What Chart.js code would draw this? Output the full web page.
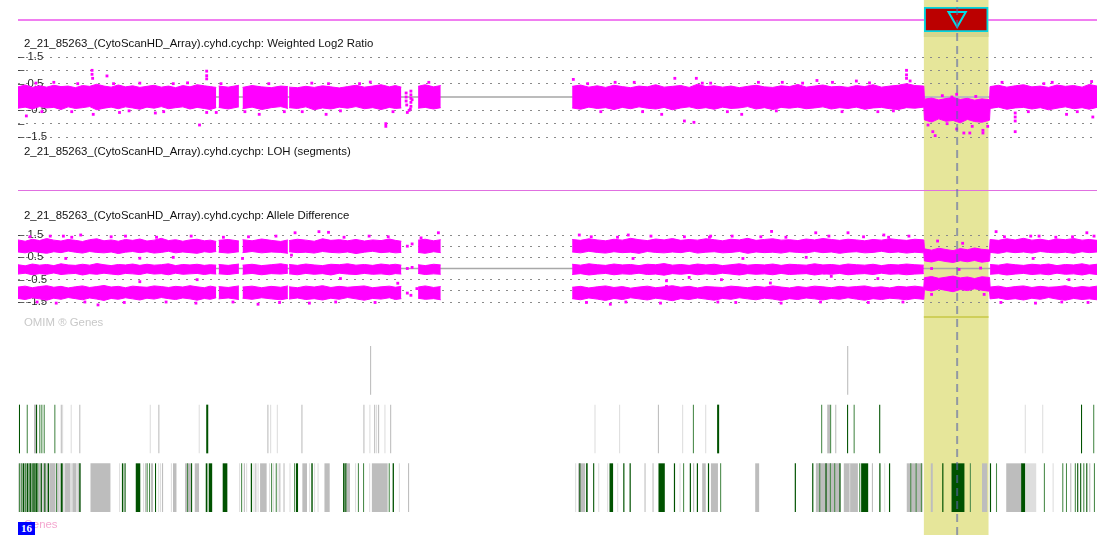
<!DOCTYPE html>
<html><head><meta charset="utf-8">
<script src="https://cdn.jsdelivr.net/npm/chart.js@4.4.1/dist/chart.umd.min.js"></script>
<style>
html,body{margin:0;padding:0;background:#fff;}
#wrap{position:relative;width:1097px;height:535px;overflow:hidden;background:#fff;font-family:'Liberation Sans',Arial,sans-serif;}
canvas{position:absolute;left:0;}
.t{position:absolute;left:24px;font-size:11.4px;line-height:13px;color:#111;white-space:nowrap;}
.sep{position:absolute;left:18px;width:1079px;}
#chr{position:absolute;left:18px;top:522px;width:17px;height:13px;background:#0000ff;color:#fff;font:bold 11px 'Liberation Serif',serif;line-height:13px;text-align:center;}
</style></head><body>
<div id="wrap">
<canvas id="bg" width="1097" height="535" style="top:0"></canvas>
<canvas id="shade" width="1097" height="5" style="top:32px"></canvas>
<canvas id="segline" width="1097" height="2" style="top:316px"></canvas>
<div class="sep" style="top:19px;height:2px;background:#f07ef0"></div>
<div class="sep" style="top:190px;height:1px;background:#e070e0"></div>
<canvas id="log2" width="1097" height="100" style="top:47px"></canvas>
<canvas id="allele" width="1097" height="95" style="top:222px"></canvas>
<canvas id="genes" width="1097" height="176" style="top:341px"></canvas>
<canvas id="hdr" width="1097" height="25" style="top:7px"></canvas>
<div class="t" style="top:37px">2_21_85263_(CytoScanHD_Array).cyhd.cychp: Weighted Log2 Ratio</div>
<div class="t" style="top:145px">2_21_85263_(CytoScanHD_Array).cyhd.cychp: LOH (segments)</div>
<div class="t" style="top:209px">2_21_85263_(CytoScanHD_Array).cyhd.cychp: Allele Difference</div>
<div class="t" style="top:316px;color:#c8c8c8">OMIM ® Genes</div>
<div class="t" style="top:518px;color:#f4a7cf">Genes</div>
<div id="chr">16</div>
<canvas id="tri" width="1097" height="25" style="top:7px"></canvas>
<canvas id="cursor" width="1097" height="535" style="top:0"></canvas>
</div>
<script>
// ---- data (chromosome 16, positions in Mb) ----
const X_MAX = 90.35;
const region = [75.88, 81.24];
const cursorMb = 78.64;

const yTicks = [1.5, 1, 0.5, 0, -0.5, -1, -1.5];
const yTickLabels = ['1.5', '', '0.5', '', '-0.5', '', '-1.5'];

const posX = [
 0,0.6,1.2,1.8,2.4,3.0,3.6,4.2,4.8,5.4,6.0,6.6,7.2,7.8,8.4,9.0,9.6,10.2,10.8,11.4,12.0,12.6,13.2,13.8,14.4,15.0,15.6,16.1,16.6,
 16.7,
 16.8,17.6,18.5,
 18.65,
 18.8,19.6,20.4,21.2,22.0,22.6,
 22.65,
 22.7,23.4,24.1,24.8,25.5,26.2,26.9,27.6,28.3,29.0,29.7,30.4,31.1,31.6,32.1,
 32.25,
 33.5,34.1,34.8,35.4,
 40,
 46.4,47.1,47.8,48.5,49.2,49.9,50.6,51.3,52.0,52.7,53.4,54.1,54.8,55.5,56.2,56.9,57.6,58.3,59.0,59.7,60.4,61.1,61.8,62.5,63.2,63.9,64.6,65.3,66.0,66.7,67.4,68.1,68.8,69.5,70.2,70.9,71.6,72.3,73.0,73.7,74.4,75.1,75.85,
 75.9,76.5,77.1,77.7,78.3,78.9,79.5,80.1,80.7,81.35,
 81.4,82.1,82.8,83.5,84.2,84.9,85.6,86.3,87.0,87.7,88.4,89.1,89.7,90.35
];

const log2Hi = [
 0.38,0.45,0.36,0.42,0.37,0.44,0.39,0.41,0.35,0.43,0.40,0.48,0.41,0.37,0.45,0.38,0.42,0.36,0.40,0.44,0.37,0.41,0.35,0.43,0.38,0.46,0.42,0.39,0.36,
 null,
 0.41,0.37,0.44,
 null,
 0.36,0.43,0.38,0.35,0.41,0.39,
 null,
 0.37,0.35,0.40,0.36,0.42,0.38,0.34,0.39,0.44,0.37,0.41,0.46,0.38,0.43,0.37,
 null,
 0.40,0.46,0.38,0.43,
 null,
 0.40,0.45,0.37,0.42,0.36,0.44,0.39,0.35,0.41,0.38,0.46,0.37,0.40,0.43,0.36,0.48,0.39,0.42,0.37,0.41,0.35,0.40,0.44,0.38,0.36,0.42,0.39,0.47,0.37,0.41,0.45,0.38,0.40,0.36,0.43,0.39,0.46,0.37,0.41,0.44,0.50,0.43,0.41,
 -0.08,-0.04,-0.11,-0.06,-0.02,-0.09,-0.05,-0.12,-0.07,-0.10,
 0.39,0.44,0.37,0.42,0.46,0.38,0.41,0.36,0.45,0.40,0.43,0.37,0.47,0.41
];
const log2Lo = [
 -0.42,-0.38,-0.45,-0.36,-0.41,-0.39,-0.47,-0.37,-0.43,-0.40,-0.36,-0.48,-0.42,-0.38,-0.44,-0.37,-0.41,-0.46,-0.38,-0.42,-0.36,-0.44,-0.40,-0.37,-0.45,-0.39,-0.43,-0.47,-0.40,
 null,
 -0.39,-0.45,-0.37,
 null,
 -0.44,-0.38,-0.47,-0.40,-0.36,-0.43,
 null,
 -0.40,-0.43,-0.37,-0.48,-0.41,-0.45,-0.38,-0.42,-0.36,-0.44,-0.40,-0.47,-0.39,-0.43,-0.41,
 null,
 -0.42,-0.39,-0.45,-0.40,
 null,
 -0.41,-0.46,-0.38,-0.43,-0.40,-0.47,-0.39,-0.44,-0.37,-0.42,-0.45,-0.39,-0.48,-0.41,-0.37,-0.44,-0.40,-0.46,-0.38,-0.43,-0.41,-0.36,-0.45,-0.40,-0.47,-0.39,-0.42,-0.38,-0.44,-0.41,-0.37,-0.45,-0.40,-0.43,-0.38,-0.46,-0.41,-0.39,-0.44,-0.47,-0.40,-0.42,-0.38,
 -0.86,-0.94,-0.82,-0.91,-0.88,-0.97,-0.84,-0.92,-0.95,-0.87,
 -0.43,-0.38,-0.46,-0.41,-0.39,-0.45,-0.40,-0.48,-0.42,-0.37,-0.44,-0.40,-0.46,-0.39
];
const log2OutX = [0.7,6.2,6.2,6.25,7.45,6.3,8.5,15.8,15.8,15.8,15.2,15.8,16.6,20.2,25.8,30.8,30.8,32.6,
 32.5,32.5,32.5,32.55,32.9,32.9,32.9,32.9,32.9,32.85,32.75,33.0,
 46.5,47.7,55.0,56.8,56.6,55.8,53.9,60.6,70.2,74.4,74.4,74.4,74.7,72.0,83.5,83.5,83.5,83.5,90.0,87.8,
 76.6,76.8,78.6,79.2,79.7,80.8,80.8,81.2,77.8,78.6,78.2,
 3.0,10.2,13.0,26.0,29.5,64.0,66.9,68.2,86.6,89.9,58.0,50.0,2.0,11.5,22.3,
 1.5,4.5,5.0,8.0,9.3,12.2,14.2,17.0,19.0,21.0,23.8,24.6,27.0,28.6,31.4,34.4,48.8,51.6,52.3,57.3,59.4,62.0,63.5,65.7,69.0,71.3,73.3,82.4,84.6,85.9,88.7,77.4,80.2,76.2,79.9];
const log2OutY = [-0.71,1.0,0.85,0.7,0.79,-0.65,-0.58,0.97,0.80,0.68,-1.05,-0.58,-0.58,-0.65,-0.65,-1.0,-1.1,-0.58,
 0.15,0.0,-0.15,-0.3,0.22,0.08,-0.05,-0.2,-0.35,-0.45,-0.5,-0.1,
 0.66,0.5,0.7,0.7,-0.95,-0.9,-0.65,-0.65,0.6,1.0,0.83,0.7,0.6,-0.55,-0.6,-0.75,-0.9,-1.3,-0.75,-0.65,
 -1.3,-1.45,-1.2,-1.35,-1.35,-1.35,-1.25,-1.1,-1.0,0.1,0.0,
 0.55,0.52,0.5,0.5,0.56,0.55,0.62,0.55,0.55,0.58,0.52,0.55,-0.55,-0.6,-0.55,
 0.52,-0.55,0.5,0.5,-0.52,-0.55,0.53,0.5,-0.55,0.5,-0.55,0.52,-0.52,0.5,-0.55,0.55,-0.55,0.55,-0.55,0.52,-0.55,0.55,-0.52,0.52,-0.55,0.53,-0.52,0.55,-0.55,0.5,-0.55,0.05,0.02,-1.05,-1.1];

const aaHi = [
 1.28,1.22,1.31,1.25,1.34,1.27,1.23,1.30,1.26,1.21,1.29,1.33,1.24,1.28,1.22,1.30,1.26,1.32,1.23,1.27,1.35,1.25,1.29,1.22,1.28,1.31,1.24,1.27,1.21,
 null,
 1.26,1.30,1.23,
 null,
 1.29,1.24,1.32,1.26,1.21,1.28,
 null,
 1.25,1.31,1.27,1.22,1.33,1.26,1.29,1.24,1.30,1.23,1.28,1.25,1.32,1.26,1.22,
 null,
 1.27,1.31,1.24,1.29,
 null,
 1.30,1.26,1.33,1.28,1.24,1.31,1.27,1.35,1.29,1.25,1.32,1.28,1.34,1.26,1.30,1.27,1.33,1.29,1.24,1.31,1.28,1.35,1.26,1.30,1.33,1.27,1.29,1.25,1.32,1.28,1.34,1.30,1.26,1.31,1.28,1.24,1.30,1.27,1.33,1.29,1.26,1.31,1.28,
 0.88,0.82,0.91,0.85,0.80,0.89,0.84,0.92,0.86,0.83,
 1.30,1.26,1.33,1.28,1.35,1.27,1.31,1.25,1.32,1.29,1.34,1.27,1.30,1.26
];
const aaLo = [
 0.74,0.70,0.77,0.72,0.68,0.75,0.71,0.78,0.73,0.69,0.76,0.72,0.70,0.74,0.67,0.73,0.76,0.71,0.75,0.69,0.72,0.77,0.70,0.74,0.71,0.68,0.75,0.72,0.76,
 null,
 0.73,0.69,0.75,
 null,
 0.71,0.76,0.70,0.74,0.72,0.68,
 null,
 0.75,0.71,0.73,0.69,0.76,0.72,0.70,0.74,0.67,0.73,0.77,0.71,0.74,0.70,0.72,
 null,
 0.72,0.68,0.75,0.71,
 null,
 0.74,0.70,0.77,0.72,0.69,0.75,0.71,0.73,0.68,0.76,0.72,0.70,0.74,0.71,0.77,0.69,0.73,0.75,0.70,0.72,0.76,0.68,0.74,0.71,0.73,0.69,0.75,0.72,0.70,0.76,0.71,0.74,0.68,0.73,0.75,0.70,0.72,0.77,0.71,0.74,0.69,0.73,0.70,
 0.34,0.29,0.37,0.31,0.27,0.35,0.30,0.36,0.28,0.33,
 0.72,0.68,0.75,0.71,0.74,0.69,0.76,0.72,0.70,0.73,0.68,0.75,0.71,0.74
];
const abHi = [
 0.17,0.12,0.20,0.15,0.18,0.13,0.21,0.16,0.14,0.19,0.15,0.22,0.17,0.13,0.18,0.16,0.20,0.14,0.19,0.15,0.17,0.21,0.13,0.18,0.16,0.19,0.14,0.17,0.15,
 null,
 0.18,0.14,0.20,
 null,
 0.15,0.19,0.13,0.17,0.21,0.16,
 null,
 0.18,0.14,0.20,0.16,0.13,0.19,0.17,0.21,0.15,0.18,0.14,0.20,0.16,0.19,0.15,
 null,
 0.17,0.13,0.19,0.16,
 null,
 0.19,0.15,0.21,0.17,0.14,0.20,0.16,0.18,0.13,0.19,0.17,0.22,0.15,0.18,0.14,0.20,0.16,0.19,0.13,0.17,0.21,0.15,0.18,0.16,0.20,0.14,0.19,0.17,0.15,0.21,0.16,0.18,0.14,0.20,0.17,0.15,0.19,0.13,0.18,0.16,0.20,0.17,0.15,
 null,null,null,null,null,null,null,null,null,null,
 0.18,0.15,0.21,0.17,0.14,0.19,0.16,0.20,0.13,0.18,0.16,0.21,0.15,0.19
];
const abLo = [
 -0.25,-0.21,-0.28,-0.23,-0.26,-0.20,-0.27,-0.24,-0.22,-0.29,-0.23,-0.26,-0.21,-0.25,-0.28,-0.22,-0.24,-0.27,-0.20,-0.25,-0.23,-0.28,-0.21,-0.26,-0.24,-0.22,-0.27,-0.23,-0.25,
 null,
 -0.24,-0.27,-0.21,
 null,
 -0.26,-0.22,-0.28,-0.23,-0.25,-0.21,
 null,
 -0.24,-0.28,-0.22,-0.26,-0.23,-0.29,-0.21,-0.25,-0.27,-0.22,-0.26,-0.24,-0.28,-0.23,-0.25,
 null,
 -0.22,-0.27,-0.24,-0.26,
 null,
 -0.27,-0.23,-0.29,-0.25,-0.22,-0.28,-0.24,-0.26,-0.21,-0.27,-0.25,-0.30,-0.23,-0.26,-0.22,-0.28,-0.24,-0.27,-0.21,-0.25,-0.29,-0.23,-0.26,-0.24,-0.28,-0.22,-0.27,-0.25,-0.23,-0.29,-0.24,-0.26,-0.22,-0.28,-0.25,-0.23,-0.27,-0.21,-0.26,-0.24,-0.28,-0.25,-0.23,
 null,null,null,null,null,null,null,null,null,null,
 -0.26,-0.23,-0.29,-0.25,-0.22,-0.27,-0.24,-0.28,-0.21,-0.26,-0.24,-0.29,-0.23,-0.27
];
const bbHi = [
 -0.83,-0.79,-0.86,-0.81,-0.77,-0.84,-0.80,-0.87,-0.82,-0.78,-0.85,-0.81,-0.76,-0.83,-0.80,-0.86,-0.79,-0.82,-0.84,-0.78,-0.81,-0.85,-0.80,-0.83,-0.77,-0.82,-0.86,-0.79,-0.84,
 null,
 -0.81,-0.85,-0.78,
 null,
 -0.83,-0.79,-0.86,-0.80,-0.84,-0.78,
 null,
 -0.82,-0.86,-0.79,-0.83,-0.77,-0.85,-0.80,-0.84,-0.81,-0.78,-0.86,-0.82,-0.79,-0.84,-0.80,
 null,
 -0.83,-0.78,-0.85,-0.81,
 null,
 -0.84,-0.80,-0.87,-0.82,-0.78,-0.85,-0.81,-0.88,-0.83,-0.79,-0.86,-0.82,-0.77,-0.84,-0.80,-0.87,-0.81,-0.83,-0.85,-0.79,-0.82,-0.86,-0.80,-0.84,-0.78,-0.83,-0.87,-0.81,-0.85,-0.79,-0.82,-0.86,-0.80,-0.84,-0.81,-0.78,-0.85,-0.82,-0.87,-0.80,-0.83,-0.79,-0.84,
 -0.41,-0.36,-0.44,-0.39,-0.34,-0.42,-0.38,-0.45,-0.37,-0.40,
 -0.83,-0.79,-0.86,-0.81,-0.78,-0.85,-0.80,-0.84,-0.82,-0.77,-0.86,-0.81,-0.84,-0.79
];
const bbLo = [
 -1.34,-1.39,-1.31,-1.36,-1.42,-1.33,-1.38,-1.30,-1.35,-1.40,-1.32,-1.37,-1.43,-1.34,-1.38,-1.31,-1.36,-1.41,-1.33,-1.37,-1.30,-1.35,-1.39,-1.32,-1.36,-1.42,-1.34,-1.38,-1.31,
 null,
 -1.36,-1.32,-1.39,
 null,
 -1.33,-1.38,-1.31,-1.36,-1.40,-1.34,
 null,
 -1.37,-1.32,-1.39,-1.35,-1.41,-1.33,-1.38,-1.30,-1.36,-1.42,-1.34,-1.37,-1.31,-1.39,-1.35,
 null,
 -1.33,-1.38,-1.35,-1.40,
 null,
 -1.35,-1.40,-1.32,-1.37,-1.43,-1.34,-1.39,-1.31,-1.36,-1.41,-1.33,-1.38,-1.44,-1.35,-1.39,-1.32,-1.37,-1.42,-1.34,-1.38,-1.31,-1.36,-1.40,-1.33,-1.37,-1.43,-1.35,-1.39,-1.32,-1.36,-1.41,-1.34,-1.38,-1.31,-1.37,-1.42,-1.35,-1.39,-1.33,-1.36,-1.40,-1.34,-1.38,
 -0.95,-1.01,-0.92,-0.98,-1.04,-0.94,-0.99,-0.91,-0.97,-1.02,
 -1.36,-1.32,-1.39,-1.35,-1.41,-1.33,-1.38,-1.30,-1.37,-1.42,-1.34,-1.39,-1.36,-1.40
];
const alleleOutX = [0.55,6.1,5.25,3.8,23.2,24.0,25.2,26.0,26.0,35.2,33.75,10.2,13.0,22.9,10.2,6.7,7.45,10.4,16.8,20.1,27.6,28.6,30.7,34.6,31.8,32.6,33.4,32.6,32.6,33.0,33.0,32.9,
 51.1,61.3,63.1,65.2,66.8,69.1,69.5,60.7,54.3,54.3,56.2,63.0,68.1,67.5,49.6,54.6,56.5,61.3,65.7,69.9,73.7,82.9,88.9,81.9,83.8,89.5,
 77.0,79.1,76.5,78.8,80.6,76.5,80.9,47.0,58.0,72.5,85.5,
 1.0,2.7,4.5,7.8,9.0,11.6,14.5,17.2,19.3,21.6,27.3,29.4,31.0,48.0,50.2,53.0,55.8,57.9,59.8,62.2,64.3,67.9,70.8,72.9,74.6,82.6,84.8,86.9,88.3,90.1,
 1.6,3.2,5.6,8.9,12.4,14.9,18.0,21.9,24.4,26.6,29.9,47.6,50.9,53.8,58.6,60.1,63.9,67.2,71.2,74.1,82.3,85.2,87.4,89.6,
 4.0,15.0,18.8,27.0,51.5,58.9,66.0,72.0,85.0,88.0];
const alleleOutY = [1.77,1.77,1.5,1.45,1.6,1.68,1.65,1.8,1.62,1.6,1.37,0.46,0.5,0.6,-0.59,-1.63,-1.85,-1.85,-1.85,-1.6,-1.77,-1.85,-1.85,-1.75,-0.66,1.0,-0.9,0.0,-1.1,0.05,1.1,-1.2,
 1.5,1.77,1.66,1.77,1.6,1.85,1.6,0.45,-0.55,-0.8,-0.4,-0.65,-0.35,-0.2,-1.6,-1.7,-1.9,-1.9,-1.75,-1.7,-1.9,-1.8,-1.7,1.65,1.77,1.6,
 1.23,1.13,0.0,-0.04,0.02,-1.16,-1.16,1.5,1.45,1.5,1.45,
 1.42,1.45,1.4,1.42,1.45,1.4,1.45,1.4,1.42,1.45,1.4,1.45,1.42,1.42,1.4,1.45,1.42,1.4,1.45,1.42,1.4,1.45,1.42,1.4,1.45,1.42,1.45,1.4,1.42,1.45,
 -1.5,-1.55,-1.5,-1.52,-1.5,-1.55,-1.5,-1.52,-1.55,-1.5,-1.52,-1.52,-1.5,-1.55,-1.5,-1.52,-1.55,-1.5,-1.52,-1.5,-1.52,-1.55,-1.5,-1.52,
 0.45,-0.5,0.45,-0.45,0.45,-0.5,0.5,-0.45,0.45,-0.5];

// gene tracks: [start Mb, end Mb, kind]  kind: 0 minor, 1 other, 2 OMIM, 3 OMIM morbid
const trackRows = ['OMIM1', 'OMIM2', 'Genes'];
const omim1Spans = [[29.48,29.57,1],[69.43,69.52,1]];
const omim2Spans = [
 [0.08,0.17,3],[0.73,0.82,2],[1.34,1.59,1],[1.51,1.60,3],[1.78,1.87,2],[1.95,2.04,2],[2.15,2.24,2],[3.04,3.13,2],[3.58,3.67,1],[3.69,3.78,0],[4.41,4.50,0],[5.13,5.22,1],
 [11.03,11.12,0],[11.75,11.84,1],[15.13,15.22,0],[15.76,15.93,3],[20.88,20.97,1],[21.11,21.20,0],[21.67,21.76,0],[23.73,23.82,1],
 [28.92,29.01,1],[29.42,29.51,0],[29.82,29.91,1],[29.98,30.07,0],[30.15,30.24,1],[30.68,30.77,0],[31.16,31.25,1],
 [48.27,48.36,0],[50.33,50.42,0],[53.58,53.67,1],[55.61,55.70,0],[56.51,56.60,2],[57.54,57.63,0],[58.54,58.71,3],
 [67.25,67.34,2],[67.76,68.01,1],[68.00,68.09,2],[68.43,68.52,1],[69.42,69.51,3],[69.97,70.06,2],[72.11,72.20,3],
 [84.30,84.39,0],[85.76,85.85,0],[89.01,89.10,3],[90.03,90.12,2]
];
const geneSpans = [
 [0.00,5.28,0],[0.08,0.17,2],[0.23,0.32,2],[0.39,0.53,3],[0.59,0.68,2],[0.73,0.86,3],[0.90,0.99,2],[1.01,1.12,3],[1.17,1.26,2],[1.28,1.40,3],
 [1.42,1.50,2],[1.51,1.62,3],[1.62,1.71,2],[1.76,1.88,1],[1.90,2.00,3],[2.07,2.18,1],[2.20,2.30,3],[2.40,2.48,1],[2.49,2.60,3],[2.68,3.10,1],
 [3.18,3.27,2],[3.29,3.38,1],[3.58,3.74,3],[3.94,4.36,1],[4.58,4.86,1],[5.05,5.14,1],[5.13,5.24,3],[6.07,7.74,1],[8.46,8.55,0],[8.70,8.82,3],
 [8.92,9.01,3],[9.86,10.24,3],[10.47,10.56,0],[10.64,10.73,1],[10.77,10.86,2],[10.97,11.06,2],[11.14,11.31,1],[11.47,11.56,3],[11.73,11.82,0],[11.89,11.98,0],
 [12.06,12.15,1],[12.80,12.89,0],[12.98,13.27,1],[13.99,14.49,1],[14.15,14.24,2],[14.49,14.58,3],[14.80,15.16,1],[15.72,15.86,3],[15.97,16.26,3],[17.14,17.53,3],
 [18.51,18.60,0],[18.68,18.77,2],[18.91,19.00,1],[19.10,19.19,0],[19.49,19.60,3],[19.72,19.81,0],[19.87,19.96,1],[20.06,20.15,0],[20.27,20.82,1],[21.02,21.11,0],
 [21.19,21.28,2],[21.36,21.45,0],[21.58,21.67,2],[21.73,21.82,0],[21.88,21.97,1],[22.23,22.32,1],[22.73,22.82,0],[23.12,23.21,2],[23.28,23.45,3],[23.81,24.20,1],
 [24.37,24.46,0],[24.56,24.68,3],[24.79,24.88,0],[25.08,25.17,0],[25.66,26.10,1],[27.22,27.35,3],[27.40,27.52,3],[27.52,27.80,1],[28.22,28.31,0],[28.46,28.55,2],
 [28.89,28.98,2],[29.40,29.49,0],[29.63,30.95,1],[31.04,31.13,2],[31.37,31.48,3],[31.89,31.98,0],[32.66,32.75,1],
 [46.65,46.74,0],[46.90,47.49,1],[47.00,47.09,3],[47.57,47.70,3],[48.16,48.25,3],[48.58,48.67,0],[49.33,49.42,0],[49.53,49.83,3],[50.17,50.26,0],[50.68,50.78,3],
 [51.21,51.31,3],[52.46,52.55,1],[53.13,53.22,1],[53.63,54.16,3],[54.92,55.02,3],[55.39,55.48,0],[55.69,55.78,2],[56.25,56.35,3],[56.53,56.62,1],[56.84,56.94,3],
 [57.29,57.59,1],[57.77,57.87,3],[58.02,58.61,1],[58.79,58.88,2],[61.73,62.06,1],[65.04,65.14,3],[66.50,66.60,3],[66.81,68.84,1],[67.09,67.18,2],[67.61,67.71,3],
 [67.98,68.07,2],[68.34,68.43,2],[68.78,68.88,3],[69.15,70.33,1],[69.60,69.69,0],[70.44,70.53,2],[70.60,71.19,3],[71.50,71.59,1],[72.12,72.22,3],[72.53,72.62,0],
 [72.93,73.03,3],[74.42,75.75,1],[74.71,74.80,2],[75.16,75.25,2],[75.60,75.69,2],[76.43,76.60,1],[77.39,77.49,3],[78.17,79.25,3],[79.70,79.79,2],[80.72,81.16,1],
 [81.38,81.48,3],[81.89,81.98,2],[82.75,84.09,1],[84.00,84.34,3],[84.38,85.26,0],[85.90,85.99,2],[86.63,86.72,0],[87.44,87.53,2],[87.75,87.84,2],[88.11,88.20,1],
 [88.49,88.58,2],[88.69,88.78,3],[88.94,89.03,3],[89.20,89.29,2],[89.45,89.54,3],[89.70,89.79,1],[90.09,90.18,2]
];

// ---- styling / build ----
const MAG = '#ff00ff';
const kindColor = ['#dedede', '#bdbdbd', '#4a8a4a', '#005200'];
Chart.defaults.font.family = "'Liberation Sans', Arial, sans-serif";
Chart.defaults.font.size = 11.4;

const base = {
  responsive: false, animation: false, devicePixelRatio: 1, events: [],
  plugins: { legend: { display: false }, tooltip: { enabled: false }, title: { display: false } }
};
const lay = (top, bottom) => ({ autoPadding: false, padding: { left: 18, right: 0, top: top, bottom: bottom } });
const xScale = { type: 'linear', min: 0, max: X_MAX, display: false };
const pts = (xs, ys) => xs.map((x, i) => ({ x: x, y: ys[i] }));
function band(ys, fill) {
  return { type: 'line', data: pts(posX, ys), borderColor: MAG, backgroundColor: MAG, borderWidth: 1,
           pointRadius: 0, tension: 0, spanGaps: false, fill: fill ? '+1' : false };
}
function panelY() {
  return {
    type: 'linear', min: -1.5, max: 1.5,
    afterBuildTicks: s => { s.ticks = yTicks.map(v => ({ value: v })); },
    grid: { color: '#8a8a8a', lineWidth: 1, drawTicks: false, borderDash: [2, 6] },
    border: { display: false, dash: [2, 6] },
    ticks: { mirror: true, padding: 0, autoSkip: false, color: '#2a2a2a', font: { size: 11.4 },
             callback: v => '\u2013 ' + (yTickLabels[yTicks.indexOf(v)] || '') }
  };
}
function zeroLine(color, w) {
  return { type: 'line', data: [{ x: 0, y: 0 }, { x: X_MAX, y: 0 }], borderColor: color, borderWidth: w, pointRadius: 0, order: 10 };
}
function outliers(xs, ys) {
  return { type: 'scatter', data: pts(xs, ys), pointStyle: 'rect', pointRadius: 2, backgroundColor: MAG, borderWidth: 0, clip: false };
}
function regionBar(id, color, extra) {
  return new Chart(document.getElementById(id), {
    type: 'bar',
    data: { labels: ['r'], datasets: [Object.assign({ data: [{ x: region, y: 'r' }], backgroundColor: color, borderWidth: 0,
      categoryPercentage: 1, barPercentage: 1 }, extra || {})] },
    options: Object.assign({}, base, { indexAxis: 'y', layout: lay(0, 0),
      scales: { x: xScale, y: { type: 'category', display: false } } })
  });
}

// selected region background and its segment strips
regionBar('bg', '#e6e69a');
regionBar('shade', '#d6d68c');
regionBar('segline', '#cfcf5a');

// weighted log2 ratio
new Chart(document.getElementById('log2'), {
  type: 'line',
  data: { datasets: [ outliers(log2OutX, log2OutY), band(log2Hi, true), band(log2Lo, false), zeroLine('#bcbcbc', 2) ] },
  options: Object.assign({}, base, { layout: lay(10, 10), scales: { x: xScale, y: panelY() } })
});

// allele difference
new Chart(document.getElementById('allele'), {
  type: 'line',
  data: { datasets: [ outliers(alleleOutX, alleleOutY), band(aaHi, true), band(aaLo, false), band(abHi, true), band(abLo, false),
    band(bbHi, true), band(bbLo, false), zeroLine('#a8a8a8', 1.5) ] },
  options: Object.assign({}, base, { layout: lay(13, 15), scales: { x: xScale, y: panelY() } })
});

// gene tracks
function track(spans, row) {
  return { data: spans.map(s => ({ x: [s[0], s[1]], y: row })), backgroundColor: spans.map(s => kindColor[s[2]]),
           borderWidth: 0, grouped: false, categoryPercentage: 1, barPercentage: 0.83 };
}
new Chart(document.getElementById('genes'), {
  type: 'bar',
  data: { labels: trackRows, datasets: [ track(omim1Spans, 'OMIM1'), track(omim2Spans, 'OMIM2'), track(geneSpans, 'Genes') ] },
  options: Object.assign({}, base, { indexAxis: 'y', layout: lay(0, 0),
    scales: { x: xScale, y: { type: 'category', display: false } } })
});

// region header box
regionBar('hdr', '#bb0000', { borderColor: '#00d6e0', borderWidth: 2, borderSkipped: false });

// cursor marker triangle
new Chart(document.getElementById('tri'), {
  type: 'scatter',
  data: { datasets: [{ data: [{ x: cursorMb, y: 0.6 }], pointStyle: 'triangle', rotation: 180, pointRadius: 10,
    borderColor: '#00dde6', borderWidth: 2, backgroundColor: 'rgba(0,0,0,0)', clip: false }] },
  options: Object.assign({}, base, { layout: lay(0, 0),
    scales: { x: xScale, y: { type: 'linear', min: 0, max: 1, display: false } } })
});

// cursor dashed line
new Chart(document.getElementById('cursor'), {
  type: 'line',
  data: { datasets: [{ data: [{ x: cursorMb, y: 0 }, { x: cursorMb, y: 1 }], borderColor: 'rgba(90,100,170,0.6)',
    borderWidth: 2, borderDash: [8, 5], pointRadius: 0, clip: false }] },
  options: Object.assign({}, base, { layout: lay(0, 0),
    scales: { x: xScale, y: { type: 'linear', min: 0, max: 1, display: false } } })
});
</script>
</body></html>
